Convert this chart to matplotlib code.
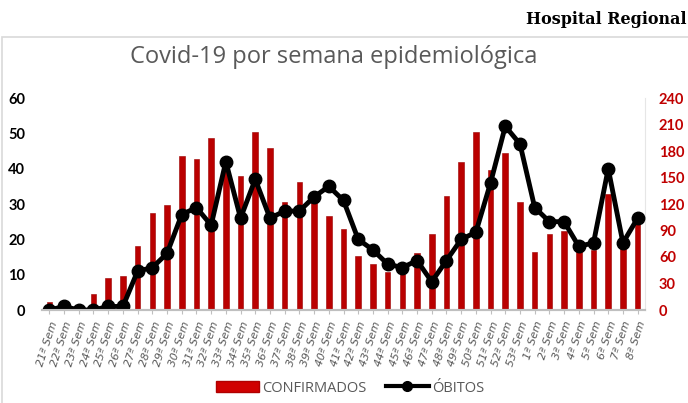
import matplotlib
matplotlib.use("Agg")
import matplotlib.pyplot as plt
from matplotlib.patches import Rectangle
from matplotlib.lines import Line2D
from matplotlib.patches import Patch

weeks = [f"{w}ª Sem" for w in range(21, 54)] + [f"{w}ª Sem" for w in range(1, 9)]
confirmados = [9, 0, 0, 18, 36, 38, 72, 110, 119, 174, 171, 195, 160, 152, 201, 183,
               122, 145, 128, 106, 92, 61, 52, 43, 41, 64, 86, 129, 168, 202, 158, 178,
               122, 66, 86, 89, 70, 68, 131, 75, 97]
obitos = [0, 1, 0, 0, 1, 1, 11, 12, 16, 27, 29, 24, 42, 26, 37, 26, 28, 28, 32, 35,
          31, 20, 17, 13, 12, 14, 8, 14, 20, 22, 36, 52, 47, 29, 25, 25, 18, 19, 40, 19, 26]
left_ticks = [0, 10, 20, 30, 40, 50, 60]
right_ticks = [0, 30, 60, 90, 120, 150, 180, 210, 240]

W, H = 688, 403
fig = plt.figure(figsize=(W / 100, H / 100), dpi=100)
fig.patch.set_facecolor("white")

# chart border
fig.patches.append(Rectangle((2 / W, -0.01), 1.0, 1 - 37 / H + 0.01, transform=fig.transFigure,
                             fill=False, edgecolor="#D9D9D9", linewidth=1.2))
fig.text(687 / W, 1 - 20 / H, "Hospital Regional", fontsize=11.5, fontweight="bold",
         family="DejaVu Serif", ha="right", va="center", color="black")
fig.text(334 / W, 1 - 57 / H, "Covid-19 por semana epidemiológica", fontsize=17,
         family="Open Sans", ha="center", va="center", color="#595959")

ax = fig.add_axes([42 / W, 1 - 310 / H, (645 - 42) / W, (310 - 98) / H])
ax2 = ax.twinx()
x = list(range(len(weeks)))

ax2.bar(x, confirmados, width=0.38, color="#BA0000", edgecolor="#9A0000", linewidth=0.4)
ax.plot(x, obitos, color="black", linewidth=3.5, marker="o", markersize=9,
        markerfacecolor="black", markeredgecolor="black", solid_joinstyle="round")

ax.set_zorder(ax2.get_zorder() + 1)
ax.patch.set_visible(False)

ax.set_xlim(-0.5, len(weeks) - 0.5)
ax.set_ylim(0, 60)
ax2.set_ylim(0, 240)
ax.set_yticks(left_ticks)
ax2.set_yticks(right_ticks)
ax.set_yticklabels([str(v) for v in left_ticks], fontsize=10.5, fontweight="bold", color="black",
                   family="Lato")
ax2.set_yticklabels([str(v) for v in right_ticks], fontsize=10.5, fontweight="bold", color="#C00000",
                    family="Lato")
ax.tick_params(axis="y", length=0, pad=12)
ax2.tick_params(axis="y", length=0, pad=10)
ax.set_xticks(x)
ax.set_xticklabels(weeks, rotation=72, ha="right", rotation_mode="anchor", fontsize=7.8,
                   style="italic", color="#595959", family="DejaVu Sans")
ax.tick_params(axis="x", length=3, color="#BFBFBF", pad=4)

for a in (ax, ax2):
    for s in ("top", "left"):
        a.spines[s].set_visible(False)
    a.spines["bottom"].set_color("#BFBFBF")
    a.spines["bottom"].set_linewidth(1.5)
ax.spines["right"].set_visible(False)
ax2.spines["right"].set_color("#E6E6E6")

handles = [Patch(facecolor="#D00000", edgecolor="#B00000"),
           Line2D([0], [0], color="black", linewidth=3, marker="o", markersize=7)]
fig.legend(handles, ["CONFIRMADOS", "ÓBITOS"], loc="center", bbox_to_anchor=(350 / W, 1 - 388 / H),
           ncol=2, frameon=False, handlelength=3, handletextpad=0.2,
           columnspacing=1.3, labelcolor="#595959", prop={"family": "Open Sans", "size": 10.5})

fig.savefig("out.png", dpi=100, facecolor="white")
